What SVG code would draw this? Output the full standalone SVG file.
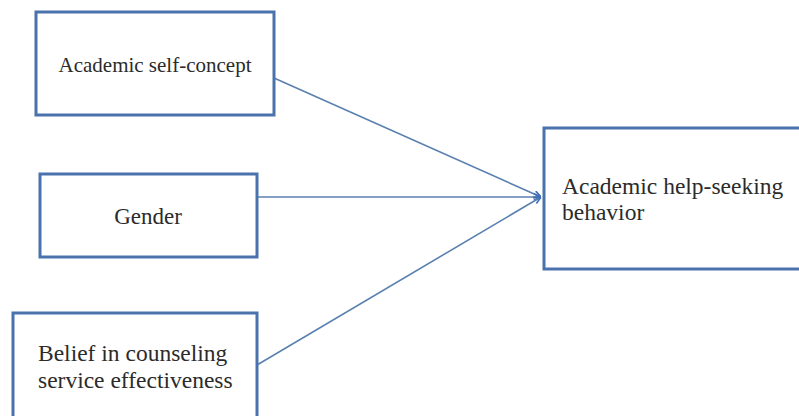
<svg xmlns="http://www.w3.org/2000/svg" width="799" height="416" viewBox="0 0 799 416">
<style>
.box{fill:#ffffff;stroke:#4a72ad;stroke-width:3}
.lbl{font-family:"Liberation Serif","Times New Roman",serif;fill:#2b2b2b}
.con{stroke:#5a80b0;stroke-width:1.6;fill:none}
</style>
<defs>
<marker id="arr" viewBox="0 0 10 10" refX="10" refY="5" markerWidth="8" markerHeight="8" markerUnits="userSpaceOnUse" orient="auto">
<path d="M1,1 L10,5 L1,9" fill="none" stroke="#3f6fb5" stroke-width="2"/>
</marker>
</defs>
<rect width="799" height="416" fill="#ffffff"/>
<g id="connectors">
<line class="con" x1="274" y1="78" x2="541" y2="197" marker-end="url(#arr)"/>
<line class="con" x1="257" y1="197" x2="541" y2="197" marker-end="url(#arr)"/>
<line class="con" x1="257" y1="365" x2="541" y2="197" marker-end="url(#arr)"/>
</g>
<g id="n1">
<rect class="box" x="36" y="12" width="238" height="103"/>
<text class="lbl" x="155" y="72" font-size="21" text-anchor="middle">Academic self-concept</text>
</g>
<g id="n2">
<rect class="box" x="40" y="174" width="217" height="83"/>
<text class="lbl" x="148" y="224" font-size="23" text-anchor="middle">Gender</text>
</g>
<g id="n3">
<rect class="box" x="13" y="313" width="244" height="110"/>
<text class="lbl" x="38" y="361" font-size="23.5">Belief in counseling</text>
<text class="lbl" x="38" y="388" font-size="23.5">service effectiveness</text>
</g>
<g id="n4">
<rect class="box" x="544" y="128" width="260" height="141"/>
<text class="lbl" x="562" y="194" font-size="23.5">Academic help-seeking</text>
<text class="lbl" x="562" y="220" font-size="23.5">behavior</text>
</g>
</svg>
